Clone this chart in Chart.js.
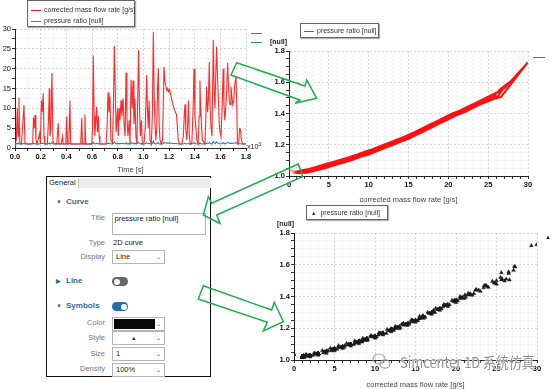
<!DOCTYPE html>
<html>
<head>
<meta charset="utf-8">
<script src="https://cdn.jsdelivr.net/npm/chart.js@4.4.0/dist/chart.umd.min.js"></script>
<style>
html, body { margin: 0; padding: 0; background: #fff; }
body { width: 554px; height: 389px; position: relative; overflow: hidden; font-family: "Liberation Sans", Arial, sans-serif; }
canvas { position: absolute; }
.t { position: absolute; white-space: nowrap; line-height: 1; }
.legend { position: absolute; border: 1px solid #666; background: #fff; box-shadow: 1px 1px 1px rgba(0,0,0,0.3); font-size: 7px; color: #333; }
.legend .row { position: absolute; white-space: nowrap; line-height: 1; }
.legend .sw { display: inline-block; width: 10px; height: 0; border-top: 1.3px solid; vertical-align: middle; margin-right: 3px; }
.lbl { position: absolute; left: 50px; width: 55px; text-align: right; font-size: 7.5px; color: #777; line-height: 1; }
.head { position: absolute; left: 56px; font-size: 8px; font-weight: bold; color: #2b6c9c; line-height: 1; }
.head i { font-style: normal; display: inline-block; width: 10px; font-size: 6px; color: #2b6c9c; }
.box { position: absolute; left: 112px; width: 51px; height: 12px; border: 1px solid #b5b5b5; background: #fff; font-size: 7.5px; color: #222; line-height: 12px; box-sizing: content-box; }
.box span { position: absolute; left: 3px; }
.box b { position: absolute; right: 3px; top: 0; font-weight: normal; font-size: 6px; color: #555; }
.tog { position: absolute; left: 112px; width: 16px; height: 9px; border-radius: 5px; }
.tog::after { content: ""; position: absolute; top: 1.5px; width: 6px; height: 6px; border-radius: 3px; background: #fff; }
.off { background: #666; }
.off::after { left: 1.5px; }
.on { background: #1d6fa5; }
.on::after { right: 1.5px; }
</style>
</head>
<body>
<canvas id="c1" width="262" height="174" style="left:0;top:0"></canvas>
<canvas id="c2" width="292" height="160" style="left:262px;top:44px"></canvas>
<canvas id="c3" width="292" height="167" style="left:262px;top:222px"></canvas>

<!-- legends and loose labels -->
<div class="legend" style="left:27px;top:0px;width:106px;height:25px">
  <div class="row" style="left:3px;top:5px"><span class="sw" style="border-color:#ff1a1a"></span>corrected mass flow rate [g/s]</div>
  <div class="row" style="left:3px;top:16px"><span class="sw" style="border-color:#2a86b8"></span>pressure ratio [null]</div>
</div>
<div class="t" style="left:247px;top:142px;font-size:7px;color:#222">x10<sup style="font-size:5px">3</sup></div>
<div class="t" style="left:251px;top:33px;width:11px;border-top:1.3px solid #ff3030"></div>
<div class="t" style="left:251px;top:42px;width:11px;border-top:1.3px solid #2a86b8"></div>
<div class="t" style="left:270px;top:38px;font-size:7px;font-weight:bold;color:#222">[null]</div>

<div class="legend" style="left:300px;top:23px;width:77px;height:13px">
  <div class="row" style="left:3px;top:3px"><span class="sw" style="border-color:#ff1a1a"></span>pressure ratio [null]</div>
</div>
<div class="t" style="left:533px;top:57px;width:12px;border-top:1.3px solid #ff3030"></div>

<div class="legend" style="left:306px;top:205px;width:80px;height:13px">
  <div class="row" style="left:4px;top:3px"><span style="font-size:5.5px;margin-right:4px">&#9650;</span>pressure ratio [null]</div>
</div>
<div class="t" style="left:277px;top:220px;font-size:7px;font-weight:bold;color:#222">[null]</div>
<div class="t" style="left:545px;top:234px;font-size:6px;color:#111">&#9650;</div>

<!-- settings panel -->
<div style="position:absolute;left:46px;top:176px;width:163px;height:199px;border:1.5px solid #111;background:#fff"></div>
<div style="position:absolute;left:47.5px;top:177.5px;width:163px;height:10px;background:#ececec"></div>
<div style="position:absolute;left:47.5px;top:177.5px;width:30px;height:10px;background:#fff;border-right:1px solid #c8c8c8"></div>
<div class="t" style="left:49px;top:179px;font-size:7.5px;color:#222">General</div>

<div class="head" style="top:198px"><i>&#9660;</i>Curve</div>
<div class="lbl" style="top:214px">Title</div>
<div style="position:absolute;left:112px;top:213px;width:92px;height:20px;border:1px solid #b5b5b5"></div>
<div class="t" style="left:114.5px;top:215px;font-size:7.5px;color:#222">pressure ratio [null]</div>
<div class="lbl" style="top:239px">Type</div>
<div class="t" style="left:113px;top:239px;font-size:7.5px;color:#222">2D curve</div>
<div class="lbl" style="top:253px">Display</div>
<div class="box" style="top:250px"><span>Line</span><b>&#8964;</b></div>

<div class="head" style="top:277px"><i>&#9654;</i>Line</div>
<div class="tog off" style="top:277px"></div>

<div class="head" style="top:302px"><i>&#9660;</i>Symbols</div>
<div class="tog on" style="top:302px"></div>
<div class="lbl" style="top:319px">Color</div>
<div class="box" style="top:316.5px"><div style="position:absolute;left:1px;top:1px;width:41px;height:10px;background:#080808"></div><b>&#8964;</b></div>
<div class="lbl" style="top:333.5px">Style</div>
<div class="box" style="top:331px"><span style="left:18px;font-size:5.5px">&#9650;</span><b>&#8964;</b></div>
<div class="lbl" style="top:349.5px">Size</div>
<div class="box" style="top:346.5px"><span>1</span><b>&#8964;</b></div>
<div class="lbl" style="top:365px">Density</div>
<div class="box" style="top:362.5px"><span>100%</span><b>&#8964;</b></div>

<!-- green arrows -->
<svg width="554" height="389" style="position:absolute;left:0;top:0">
  <g fill="none" stroke="#1eae4e" stroke-width="1.5" stroke-linejoin="miter">
    <polygon points="236.7,62.7 305,86 306.7,80 316.7,98.3 295,103.3 300,100 231,75"/>
    <polygon points="298.3,164 211.7,203.3 208.3,196.7 203.3,215 220,223.5 216.7,215 302.7,176.7"/>
    <polygon points="203.3,285.7 271.7,310 274.3,302.3 283.3,321.7 263.3,331 267.3,322.3 198.3,299"/>
  </g>
  <g fill="none" stroke="#999" stroke-width="1.2" opacity="0.85">
    <ellipse cx="379" cy="359" rx="6" ry="5"/>
    <ellipse cx="385" cy="364" rx="5" ry="4.2"/>
  </g>
</svg>
<div class="t" style="left:400px;top:354px;font-size:15px;font-family:'Noto Sans CJK SC','Liberation Sans',sans-serif;color:rgba(135,135,135,0.9);text-shadow:0 0 1px #fff,0 0 1px #fff,0 0 2px #fff;transform:scaleX(0.86);transform-origin:left top">Simcenter 1D 系统仿真</div>

<script>
// transient run: time [s], corrected mass flow rate [g/s], pressure ratio [-]
var timeS = [
  0, 5, 10, 18, 24, 31, 37, 50, 70, 78,
  100, 120, 138, 144, 150, 156, 163, 172, 192, 198,
  206, 212, 220, 226, 232, 252, 262, 267, 272, 280,
  288, 296, 310, 325, 337, 343, 360, 370, 375, 396,
  403, 409, 420, 428, 434, 460, 490, 512, 520, 526,
  538, 545, 551, 575, 598, 604, 610, 617, 622, 630,
  636, 643, 650, 656, 662, 690, 710, 718, 725, 732,
  740, 747, 760, 768, 774, 781, 788, 800, 806, 812,
  818, 826, 833, 842, 850, 858, 865, 872, 880, 890,
  896, 905, 912, 920, 927, 935, 942, 950, 963, 970,
  977, 985, 992, 1005, 1015, 1026, 1032, 1038, 1045, 1052,
  1062, 1070, 1078, 1085, 1090, 1097, 1105, 1111, 1117, 1123,
  1130, 1140, 1150, 1161, 1168, 1176, 1183, 1190, 1198, 1205,
  1213, 1222, 1230, 1240, 1250, 1258, 1266, 1272, 1282, 1300,
  1312, 1320, 1325, 1331, 1338, 1346, 1352, 1358, 1366, 1378,
  1388, 1395, 1402, 1410, 1417, 1427, 1435, 1441, 1447, 1453,
  1460, 1480, 1487, 1493, 1500, 1507, 1514, 1521, 1528, 1535,
  1545, 1552, 1558, 1564, 1571, 1578, 1585, 1592, 1598, 1605,
  1614, 1622, 1628, 1635, 1642, 1650, 1657, 1663, 1670, 1676,
  1683, 1690, 1697, 1705, 1712, 1722, 1728, 1733, 1742, 1750,
  1757, 1764, 1775, 1800
];
var flowT = [
  0, 1.5, 2, 10, 3, 12.7, 1.2, 1, 10.8, 1.1,
  1, 1, 1.2, 7.7, 5, 8.3, 2, 1, 3.7, 1.1,
  12, 9, 13.8, 3, 1, 1, 8, 15, 3, 5,
  18.9, 1.5, 1, 1, 6.3, 1, 1, 3, 1, 1,
  8, 1, 1, 12, 1, 1, 1, 1, 7.5, 1,
  1, 8.5, 1, 1, 1, 5, 23.4, 8, 3, 7,
  10.4, 4, 8, 3, 1, 1, 1, 6, 14, 9,
  13, 2, 1.2, 12, 25.7, 15, 4, 10, 3, 10,
  7, 12, 8, 12.5, 6, 3, 19, 8, 3, 7,
  1.2, 17.2, 10, 17, 6, 12.5, 3, 1, 24.7, 10,
  3, 7, 1, 1, 5, 18.4, 10, 5, 12, 2,
  1, 8, 29.3, 12, 7, 2, 5, 15, 20.1, 6,
  2, 1, 2, 20.5, 17, 15.5, 14.5, 15, 14.2, 14.7,
  13.5, 12.2, 11, 10, 9, 8.5, 5, 2, 1, 1,
  3, 9, 11, 5, 2, 6, 12, 3, 1, 1.2,
  10, 20, 8, 5, 2, 1, 8, 17, 10, 6,
  2, 1, 8, 15.5, 9, 12, 21.7, 10, 5, 3,
  27.2, 14, 10, 18, 25.6, 18, 12, 6, 4, 3,
  10, 20, 11, 7, 10, 15, 21.5, 16, 12, 11,
  15.5, 13, 11, 12, 16, 18, 11, 1.2, 1, 4.9,
  4.7, 2, 1, 1
];
var ratioT = [
  1.035, 1.03, 1.03, 1.15, 1.04, 1.204, 1.02, 1.02, 1.165, 1.02,
  1.02, 1.02, 1.02, 1.11, 1.07, 1.12, 1.03, 1.02, 1.05, 1.02,
  1.19, 1.135, 1.226, 1.04, 1.02, 1.02, 1.115, 1.25, 1.04, 1.07,
  1.348, 1.025, 1.02, 1.02, 1.09, 1.02, 1.02, 1.04, 1.02, 1.02,
  1.115, 1.02, 1.02, 1.19, 1.02, 1.02, 1.02, 1.02, 1.108, 1.02,
  1.02, 1.123, 1.02, 1.02, 1.02, 1.07, 1.455, 1.115, 1.04, 1.1,
  1.158, 1.055, 1.115, 1.04, 1.02, 1.02, 1.02, 1.085, 1.23, 1.135,
  1.21, 1.03, 1.02, 1.19, 1.51, 1.25, 1.055, 1.15, 1.04, 1.15,
  1.1, 1.19, 1.115, 1.2, 1.085, 1.04, 1.35, 1.115, 1.04, 1.1,
  1.02, 1.305, 1.15, 1.3, 1.085, 1.2, 1.04, 1.02, 1.485, 1.15,
  1.04, 1.1, 1.02, 1.02, 1.07, 1.335, 1.15, 1.07, 1.19, 1.03,
  1.02, 1.115, 1.72, 1.19, 1.1, 1.03, 1.07, 1.25, 1.378, 1.085,
  1.03, 1.02, 1.03, 1.388, 1.3, 1.262, 1.24, 1.25, 1.234, 1.244,
  1.22, 1.194, 1.17, 1.15, 1.135, 1.123, 1.07, 1.03, 1.02, 1.02,
  1.04, 1.135, 1.17, 1.07, 1.03, 1.085, 1.19, 1.04, 1.02, 1.02,
  1.15, 1.375, 1.115, 1.07, 1.03, 1.02, 1.115, 1.3, 1.15, 1.085,
  1.03, 1.02, 1.115, 1.262, 1.135, 1.19, 1.415, 1.15, 1.07, 1.04,
  1.59, 1.23, 1.15, 1.325, 1.55, 1.325, 1.19, 1.085, 1.055, 1.04,
  1.15, 1.375, 1.17, 1.1, 1.15, 1.25, 1.41, 1.275, 1.19, 1.17,
  1.262, 1.21, 1.17, 1.19, 1.275, 1.325, 1.17, 1.02, 1.02, 1.068,
  1.065, 1.03, 1.02, 1.02
];

var sweepFlow = [
  0, 1.5, 2, 3, 4, 5, 6, 7, 8, 9, 10, 11, 12, 13, 14, 15, 16, 17, 18, 19, 20, 21, 22, 23, 24, 25, 26, 26.6, 29.95,
  27.1, 26.5, 25.5, 24.5, 23.5, 22.5, 21.5, 20.5, 19.5, 18.5, 17.5, 16.5, 15.5, 14.5, 13.5, 12.5, 11.5, 10.5, 9.5, 8.5, 7.5, 6.5, 5.5, 4.5, 3.5, 2.5, 1.5, 1.2,
  1.8, 2.8, 3.8, 4.8, 5.8, 6.8, 7.8, 8.8, 9.8, 10.8, 11.8, 12.8, 13.8, 14.8, 15.8, 16.8, 17.8, 18.8, 19.8, 20.8, 21.8, 22.8, 23.8, 24.8, 25.6, 26.5, 27.3,
  26.2, 25, 23.7, 22.4, 21.1, 19.8, 18.5, 17.2, 15.9, 14.6, 13.3, 12, 10.7, 9.4, 8.1, 6.8, 5.5, 4.2, 2.9, 1.6, 1,
  1.3, 2.4, 3.6, 4.6, 5.3, 6.2, 7.4, 8.4, 9.1, 10.2, 11.4, 12.3, 13.1, 14.2, 15.3, 16.2, 17.4, 18.2, 19.2, 20.2, 21.2, 22.2,
  21.7, 20.7, 19.7, 18.7, 17.7, 16.7, 15.7, 14.7, 13.7, 12.7, 11.7, 10.7, 9.7, 8.7, 7.7, 6.7, 5.7, 4.7, 3.7, 2.7, 1.7
];
var sweepRatio = [
  1.035, 1.03, 1.02, 1.03, 1.043, 1.058, 1.073, 1.088, 1.103, 1.123, 1.138, 1.158, 1.178, 1.198, 1.218, 1.238, 1.263, 1.288, 1.313, 1.338, 1.363, 1.388, 1.408, 1.433, 1.458, 1.478, 1.498, 1.505, 1.726,
  1.565, 1.545, 1.52, 1.495, 1.47, 1.445, 1.42, 1.4, 1.375, 1.35, 1.325, 1.3, 1.275, 1.252, 1.232, 1.212, 1.192, 1.172, 1.155, 1.137, 1.12, 1.105, 1.09, 1.075, 1.06, 1.045, 1.035, 1.03,
  1.028, 1.038, 1.052, 1.067, 1.082, 1.097, 1.112, 1.131, 1.147, 1.166, 1.186, 1.206, 1.226, 1.246, 1.27, 1.295, 1.32, 1.345, 1.37, 1.395, 1.416, 1.44, 1.465, 1.486, 1.505, 1.555, 1.586,
  1.51, 1.5, 1.47, 1.44, 1.41, 1.378, 1.345, 1.312, 1.28, 1.252, 1.225, 1.197, 1.17, 1.146, 1.122, 1.1, 1.08, 1.06, 1.042, 1.026, 1.02,
  1.018, 1.03, 1.045, 1.058, 1.068, 1.08, 1.098, 1.113, 1.126, 1.145, 1.168, 1.186, 1.202, 1.225, 1.248, 1.27, 1.3, 1.322, 1.348, 1.372, 1.395, 1.418,
  1.415, 1.392, 1.368, 1.344, 1.318, 1.293, 1.268, 1.245, 1.224, 1.204, 1.184, 1.165, 1.146, 1.128, 1.11, 1.095, 1.08, 1.064, 1.05, 1.038, 1.025
];

var FONT = 'Liberation Sans';
var flowTitle = 'corrected mass flow rate [g/s]';

function pairs(xs, ys) {
    return xs.map(function (x, i) { return { x: x, y: ys[i] }; });
}

// grid: faint dotted lines, slightly stronger on labelled ticks
function grid(isMajor) {
    return {
        color: function (c) { return isMajor(c.tick.value) ? 'rgba(0,0,0,0.16)' : 'rgba(0,0,0,0.06)'; },
        tickColor: '#333',
        tickLength: 3,
        lineWidth: 1
    };
}

function axis(min, max, step, isMajor, fmt, fit, bold) {
    return {
        type: 'linear', min: min, max: max,
        afterFit: fit,
        ticks: {
            stepSize: step, autoSkip: false, maxRotation: 0, padding: 1,
            color: '#111', font: { family: FONT, size: 7.5, weight: bold ? 'bold' : 'normal' },
            callback: function (v) { return isMajor(v) ? fmt(v) : ''; }
        },
        grid: grid(isMajor),
        border: { color: '#222', width: 1, dash: [2, 2] }
    };
}

function near(v, m) { return Math.abs(v / m - Math.round(v / m)) < 1e-6; }

var base = {
    responsive: false, animation: false, devicePixelRatio: 1,
    plugins: { legend: { display: false }, tooltip: { enabled: false } }
};

// chart 1: time history
var x1 = axis(0, 1800, 100, function (v) { return near(v, 200); }, function (v) { return (v / 1000).toFixed(1); }, function (s) { s.height = 26; }, true);
x1.title = { display: true, text: 'Time [s]', color: '#444', font: { family: FONT, size: 7.5 }, padding: { top: 2, bottom: 0 } };
var y1 = axis(0, 30, 2.5, function (v) { return near(v, 5); }, function (v) { return v; }, function (s) { s.width = 15; }, false);

new Chart(document.getElementById('c1'), {
    type: 'scatter',
    data: {
        datasets: [
            { data: pairs(timeS, flowT), showLine: true, borderColor: 'rgba(255,20,20,0.9)', borderWidth: 1.1, pointRadius: 0 },
            { data: pairs(timeS, ratioT), showLine: true, borderColor: '#2a86b8', borderWidth: 1.1, pointRadius: 0 }
        ]
    },
    options: Object.assign({}, base, {
        layout: { padding: { top: 29, right: 16, left: 0, bottom: 0 } },
        scales: { x: x1, y: y1 }
    })
});

// chart 2: pressure ratio vs flow, line
var x2 = axis(0, 30, 1, function (v) { return near(v, 5); }, function (v) { return v; }, function (s) { s.height = 28; }, true);
x2.title = { display: true, text: flowTitle, color: '#444', font: { family: FONT, size: 7.5 }, padding: { top: 3, bottom: 0 } };
var y2 = axis(1, 1.8, 0.05, function (v) { return near(v, 0.2); }, function (v) { return v.toFixed(1); }, function (s) { s.width = 27; }, true);

new Chart(document.getElementById('c2'), {
    type: 'scatter',
    data: {
        datasets: [{
            data: pairs(sweepFlow, sweepRatio), showLine: true, borderWidth: 2, pointRadius: 0,
            borderColor: '#ff1010',
            segment: { borderColor: function (c) { return c.p0DataIndex === 0 ? 'rgba(255,60,60,0.5)' : '#ff1010'; } }
        }]
    },
    options: Object.assign({}, base, {
        layout: { padding: { top: 7, right: 26, left: 0, bottom: 0 } },
        scales: { x: x2, y: y2 }
    })
});

// chart 3: pressure ratio vs flow, triangle symbols (sweeps and transient samples)
var x3 = axis(0, 30, 1, function (v) { return near(v, 5); }, function (v) { return v; }, function (s) { s.height = 29; }, true);
x3.title = { display: true, text: flowTitle, color: '#444', font: { family: FONT, size: 7.5 }, padding: { top: 5, bottom: 0 } };
var y3 = axis(1, 1.8, 0.05, function (v) { return near(v, 0.2); }, function (v) { return v.toFixed(1); }, function (s) { s.width = 32; }, true);

var symbolStyle = { pointStyle: 'triangle', pointRadius: 2.1, backgroundColor: '#1a1a1a', borderColor: '#1a1a1a', borderWidth: 0.5 };
new Chart(document.getElementById('c3'), {
    type: 'scatter',
    data: {
        datasets: [
            Object.assign({ data: pairs(sweepFlow, sweepRatio) }, symbolStyle),
            Object.assign({ data: pairs(flowT, ratioT) }, symbolStyle)
        ]
    },
    options: Object.assign({}, base, {
        layout: { padding: { top: 11, right: 17, left: 0, bottom: 0 } },
        scales: { x: x3, y: y3 }
    })
});
</script>
</body>
</html>
